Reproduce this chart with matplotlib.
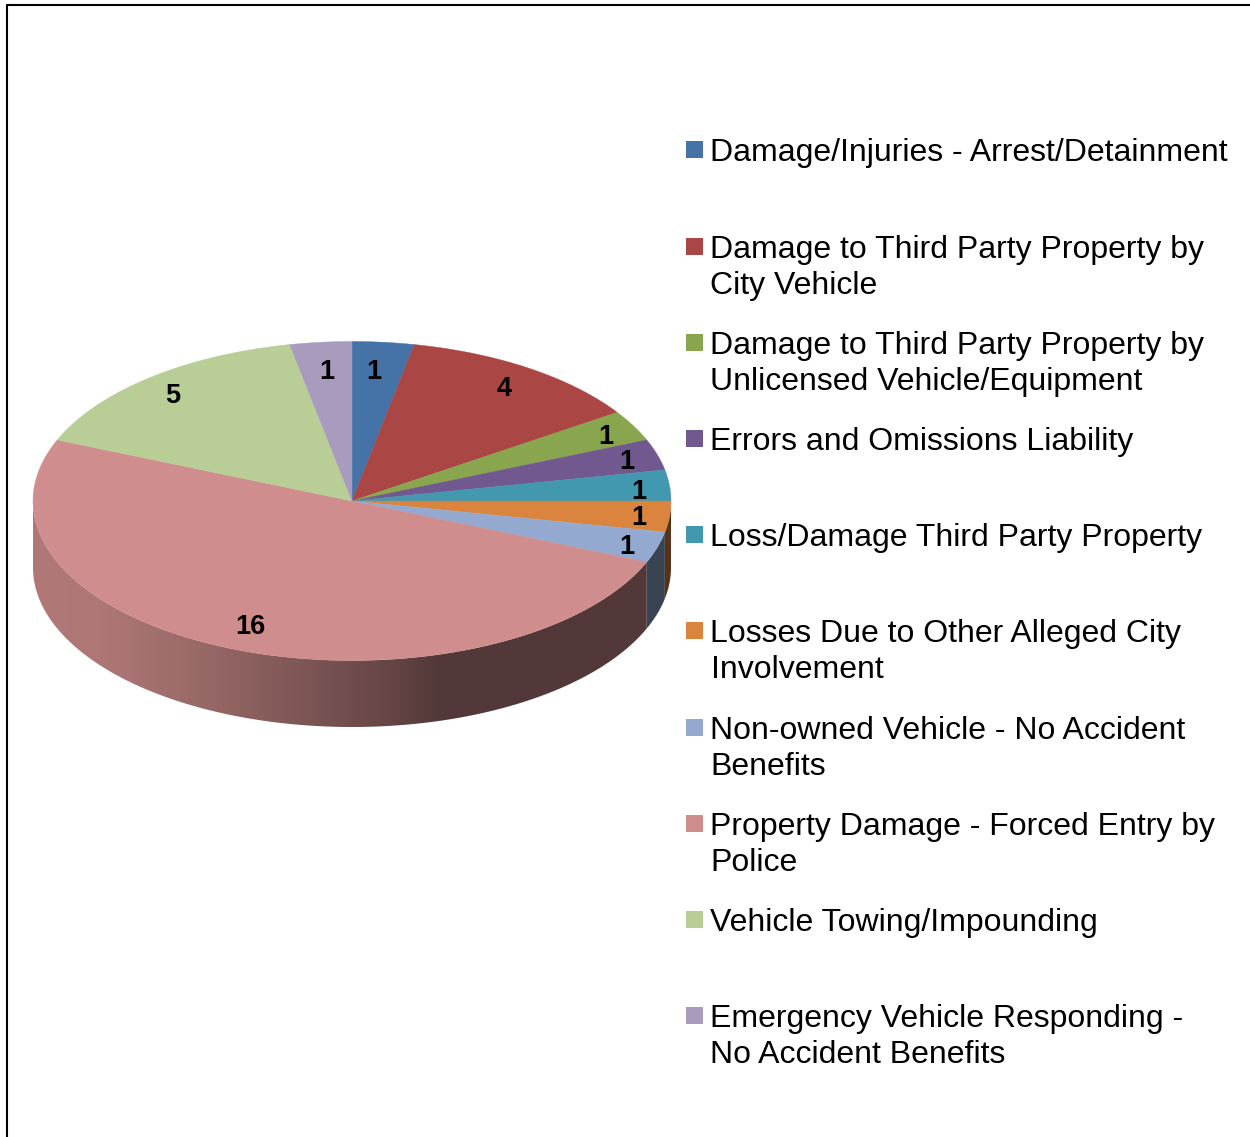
import numpy as np
import matplotlib
matplotlib.use("Agg")
import matplotlib.pyplot as plt
from matplotlib.patches import Polygon, Rectangle
from matplotlib.colors import to_rgb

categories = ["Damage/Injuries - Arrest/Detainment",
              "Damage to Third Party Property by\nCity Vehicle",
              "Damage to Third Party Property by\nUnlicensed Vehicle/Equipment",
              "Errors and Omissions Liability",
              "Loss/Damage Third Party Property",
              "Losses Due to Other Alleged City\nInvolvement",
              "Non-owned Vehicle - No Accident\nBenefits",
              "Property Damage - Forced Entry by\nPolice",
              "Vehicle Towing/Impounding",
              "Emergency Vehicle Responding -\nNo Accident Benefits"]
values = [1, 4, 1, 1, 1, 1, 1, 16, 5, 1]
colors = ["#4572A7", "#AA4643", "#89A54E", "#71588F", "#4198AF",
          "#DB843D", "#93A9CF", "#CF8E8D", "#B9CD96", "#A99BBD"]
label_pos = [(374, 372), (504.5, 389), (605.5, 437), (627, 462), (639, 492),
             (639, 518), (627, 547), (250.5, 627.5), (173, 396), (327, 372)]
legend_y = [150, 247, 343, 439, 535, 631, 728, 824, 920, 1016]

W, H = 1250, 1137
cx, cy, rx, ry, depth = 352, 501, 319, 159.5, 66.5

fig = plt.figure(figsize=(W / 100, H / 100), dpi=100)
ax = fig.add_axes([0, 0, 1, 1])
ax.axis("off")

def pt(a):
    r = np.radians(a)
    return cx + rx * np.sin(r), cy - ry * np.cos(r)

cum = np.concatenate([[0], np.cumsum(values)]) / sum(values) * 360

# horizontal brightness ramp for the side wall
ramp_x = np.linspace(cx - rx, cx + rx, 640)
ramp = np.interp(ramp_x, [33, 100, 200, 300, 390, 440], [0.85, 0.84, 0.74, 0.61, 0.49, 0.40])

# side wall
for i, col in enumerate(colors):
    a0, a1 = max(cum[i], 90), min(cum[i + 1], 270)
    if a1 <= a0:
        continue
    ang = np.linspace(a0, a1, 300)
    xs, ys = pt(ang)
    verts = list(zip(xs, ys)) + list(zip(xs[::-1], ys[::-1] + depth))
    img = ramp[None, :, None] * np.array(to_rgb(col))[None, None, :]
    im = ax.imshow(img, extent=(cx - rx, cx + rx, cy + ry + depth + 1, cy - 1),
                   aspect="auto", interpolation="bilinear", zorder=2)
    clip = Polygon(verts, closed=True, transform=ax.transData)
    im.set_clip_path(clip)

ax.set_xlim(0, W)
ax.set_ylim(H, 0)

# top
for i, col in enumerate(colors):
    ang = np.linspace(cum[i], cum[i + 1], 200)
    xs, ys = pt(ang)
    verts = [(cx, cy)] + list(zip(xs, ys))
    ax.add_patch(Polygon(verts, closed=True, fc=col, ec=col, lw=0.3, zorder=3))

for v, (x, y) in zip(values, label_pos):
    ax.text(x, y, str(v), ha="center", va="center", fontsize=19.5, fontweight="bold",
            family="Liberation Sans", color="black", zorder=5)

for name, col, y in zip(categories, colors, legend_y):
    ax.add_patch(Rectangle((686, y - 9), 17, 17, fc=col, ec="none", zorder=4))
    ax.text(710.5, y - 12, name, ha="left", va="top", fontsize=23.05, family="Liberation Sans",
            color="black", linespacing=1.28, zorder=5)

# frame
ax.plot([7, 7, W], [H, 4.5, 4.5], color="black", lw=1.5, zorder=6, clip_on=False)

fig.savefig("out.png", dpi=100, facecolor="white")
